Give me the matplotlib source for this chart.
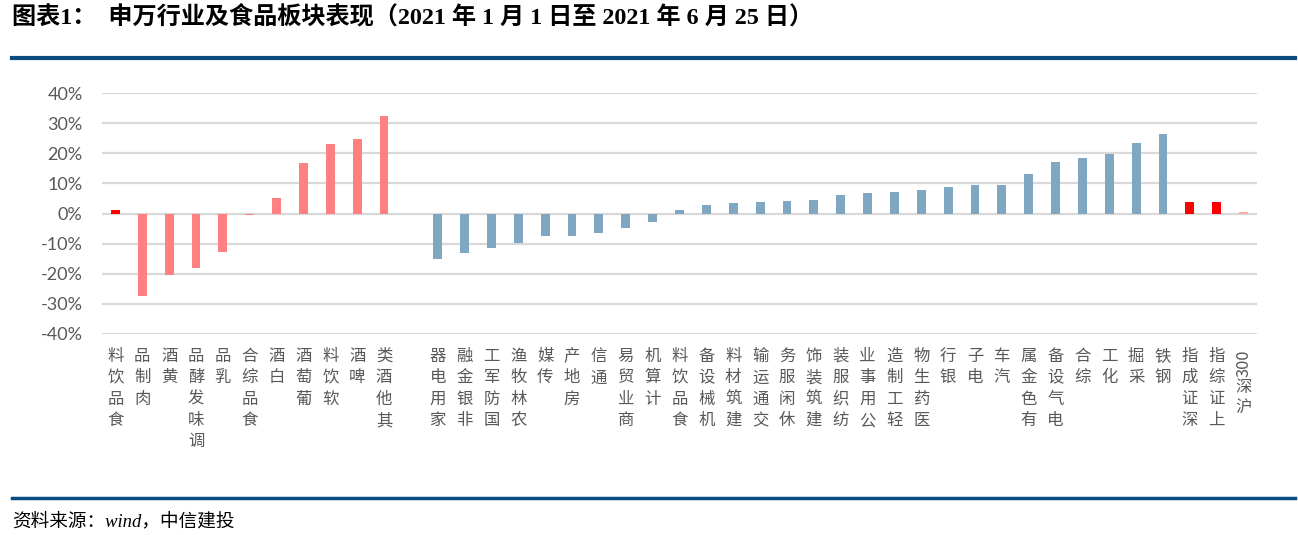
import re
import numpy as np
import matplotlib
matplotlib.use("Agg")
import matplotlib.pyplot as plt
from matplotlib.ticker import FuncFormatter, FixedLocator
from matplotlib.textpath import TextPath
from matplotlib.font_manager import FontProperties

# ---------------- data ----------------
food_labels = ["食品饮料", "肉制品", "黄酒", "调味发酵品", "乳品", "食品综合",
               "白酒", "葡萄酒", "软饮料", "啤酒", "其他酒类"]
food_values = [1.1, -27.5, -20.5, -18.2, -12.9, -0.5, 5.2, 16.7, 23.2, 24.7, 32.2]

ind_labels = ["家用电器", "非银金融", "国防军工", "农林牧渔", "传媒", "房地产", "通信",
              "商业贸易", "计算机", "食品饮料", "机械设备", "建筑材料", "交通运输",
              "休闲服务", "建筑装饰", "纺织服装", "公用事业", "轻工制造", "医药生物",
              "银行", "电子", "汽车", "有色金属", "电气设备", "综合", "化工", "采掘",
              "钢铁", "深证成指", "上证综指", "沪深300"]
ind_values = [-15.2, -13.2, -11.6, -9.9, -7.4, -7.4, -6.6, -4.8, -2.8, 1.1, 2.8,
              3.4, 3.8, 4.1, 4.4, 6.1, 6.8, 7.1, 7.8, 8.8, 9.4, 9.4, 13.1, 17.1,
              18.4, 19.8, 23.4, 26.4, 3.8, 3.8, 0.6]

y_ticks = [-40, -30, -20, -10, 0, 10, 20, 30, 40]

title = "图表1：  申万行业及食品板块表现（2021 年 1 月 1 日至 2021 年 6 月 25 日）"
source = "资料来源：wind，中信建投"

# ---------------- colours ----------------
PINK = "#FF8080"
BLUE = "#80A7C1"
RED = "#FF0000"
LIGHTPINK = "#FFA8A8"
NAVY = "#0B4C80"
GRID = "#D9D9D9"
TXT = "#595959"

food_colors = [RED] + [PINK] * (len(food_labels) - 1)
ind_colors = []
for lab in ind_labels:
    if lab in ("深证成指", "上证综指"):
        ind_colors.append(RED)
    elif lab == "沪深300":
        ind_colors.append(LIGHTPINK)
    else:
        ind_colors.append(BLUE)

CJK = ["Noto Sans CJK SC", "DejaVu Sans"]

fig = plt.figure(figsize=(12.98, 5.35), dpi=100)
W, H = 1298, 535
ax = fig.add_axes([102 / W, (H - 334) / H, 1155 / W, 241 / H])

n1 = len(food_labels)
x_food = np.arange(n1)
x_ind = n1 + 1 + np.arange(len(ind_labels))
bw = 0.33

ax.bar(x_food, np.array(food_values) / 100, width=bw, color=food_colors, zorder=3)
ax.bar(x_ind, np.array(ind_values) / 100, width=bw, color=ind_colors, zorder=3)

ax.set_xlim(-0.5, x_ind[-1] + 0.5)
ax.set_ylim(-0.40, 0.40)
ax.yaxis.set_major_locator(FixedLocator([v / 100 for v in y_ticks]))
ax.yaxis.set_major_formatter(FuncFormatter(lambda v, p: f"{v * 100:.0f}%"))
ax.grid(axis="y", color=GRID, linewidth=1.6, zorder=0)
ax.set_axisbelow(True)
for s in ax.spines.values():
    s.set_visible(False)
ax.tick_params(axis="y", length=0, pad=14, labelsize=13, labelcolor=TXT)
ax.tick_params(axis="x", length=0)
ax.set_xticks([])
for lab in ax.get_yticklabels():
    lab.set_fontfamily(["Lato", "DejaVu Sans"])

# ---------------- stacked vertical category labels ----------------
trans = ax.get_xaxis_transform()
FS = 11.8
STEP = 15.4  # points per CJK character
fp = FontProperties(family=CJK, size=FS)
all_x = list(x_food) + list(x_ind)
all_labels = food_labels + ind_labels
for xpos, lab in zip(all_x, all_labels):
    tokens = re.findall(r"[0-9A-Za-z]+|.", lab)[::-1]
    off = -10.0
    for tok in tokens:
        if re.match(r"[0-9A-Za-z]+", tok):
            length = TextPath((0, 0), tok, size=FS, prop=fp).get_extents().width
            ax.annotate(tok, xy=(xpos, 0), xycoords=trans, xytext=(0, off - 1.5),
                        textcoords="offset points", ha="center", va="top",
                        rotation=90, fontsize=FS, color=TXT,
                        family=CJK, annotation_clip=False)
            off -= length + 3.5
        else:
            ax.annotate(tok, xy=(xpos, 0), xycoords=trans, xytext=(0, off),
                        textcoords="offset points", ha="center", va="top",
                        fontsize=FS, color=TXT, family=CJK,
                        annotation_clip=False)
            off -= STEP

# ---------------- title, rules, source ----------------
fig.text(12 / W, 1 - 18 / H, title, fontsize=17.4, fontweight="bold",
         family=["Liberation Serif", "Noto Sans CJK SC"], color="black",
         ha="left", va="center")
fig.add_artist(plt.Line2D([12 / W, 1295 / W], [1 - 58 / H, 1 - 58 / H],
                          color=NAVY, linewidth=3.0, transform=fig.transFigure))
fig.add_artist(plt.Line2D([12 / W, 1295 / W], [1 - 497.5 / H, 1 - 497.5 / H],
                          color=NAVY, linewidth=2.5, transform=fig.transFigure))
fig.text(12 / W, 1 - 521 / H, source, fontsize=13.4, style="italic",
         family=["Liberation Serif", "Noto Sans CJK SC"], color="black",
         ha="left", va="center")

fig.savefig("out.png", dpi=100)
